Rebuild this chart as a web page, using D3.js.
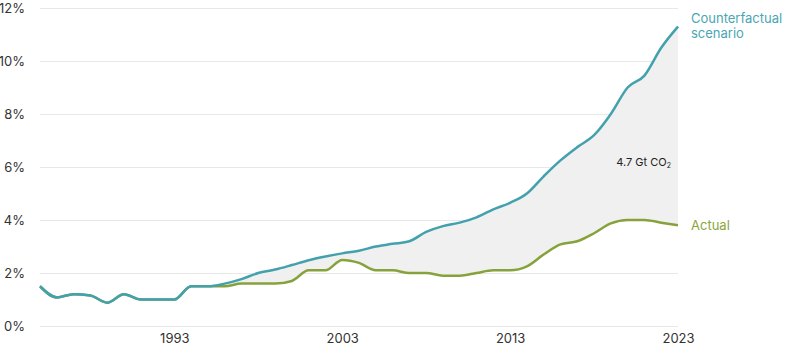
<!DOCTYPE html>
<html>
<head>
<meta charset="utf-8">
<script src="https://cdn.jsdelivr.net/npm/d3@7"></script>
<style>
  body { margin: 0; background: #fff; }
  svg text { font-family: Inter, "Liberation Sans", sans-serif; }
</style>
</head>
<body>
<svg></svg>
<script>
// data (share in %)
const years = d3.range(1985, 2024);
const counterfactual = [1.5, 1.08, 1.2, 1.15, 0.88, 1.2, 1.0, 1.0, 1.0, 1.5,
  1.5, 1.6, 1.77, 2.0, 2.13, 2.3, 2.48, 2.62, 2.74, 2.84,
  3.0, 3.1, 3.2, 3.55, 3.77, 3.9, 4.1, 4.4, 4.65, 5.0,
  5.65, 6.25, 6.75, 7.2, 8.0, 9.0, 9.45, 10.5, 11.3];
const actual = [1.5, 1.08, 1.2, 1.15, 0.88, 1.2, 1.0, 1.0, 1.0, 1.5,
  1.5, 1.5, 1.6, 1.6, 1.6, 1.7, 2.1, 2.1, 2.49, 2.38,
  2.1, 2.1, 2.0, 2.0, 1.9, 1.9, 2.0, 2.1, 2.1, 2.25,
  2.7, 3.08, 3.2, 3.5, 3.87, 4.0, 4.0, 3.9, 3.8];
const yTicks = [0, 2, 4, 6, 8, 10, 12];
const xTicks = [1993, 2003, 2013, 2023];

const rows = years.map((y, i) => ({ year: y, cf: counterfactual[i], act: actual[i] }));

const svg = d3.select("svg")
    .attr("width", 795)
    .attr("height", 354);

const x = d3.scaleLinear().domain([1985, 2023]).range([40, 678]);
const y = d3.scaleLinear().domain([0, 12]).range([326, 8]);

// grid + y labels
svg.append("g")
    .attr("transform", "translate(40,0)")
    .call(d3.axisLeft(y).tickValues(yTicks).tickSize(-638).tickFormat(d => d + "%"))
    .call(g => g.select(".domain").remove())
    .call(g => g.selectAll(".tick line").attr("stroke", "#e8e8e8").attr("stroke-width", 1.2))
    .call(g => g.selectAll(".tick text")
        .attr("x", -15)
        .attr("fill", "#333")
        .style("font-size", "13px"));

// x labels
svg.append("g")
    .attr("transform", "translate(0,326)")
    .call(d3.axisBottom(x).tickValues(xTicks).tickSize(0).tickFormat(d3.format("d")))
    .call(g => g.select(".domain").remove())
    .call(g => g.selectAll(".tick text")
        .attr("dy", "1.1em")
        .attr("fill", "#333")
        .style("font-size", "13px"));

const curve = d3.curveMonotoneX;

// shaded gap between the two lines
svg.append("path")
    .datum(rows)
    .attr("fill", "#f0f0f0")
    .attr("d", d3.area().curve(curve)
        .x(d => x(d.year))
        .y0(d => y(d.act))
        .y1(d => y(d.cf)));

svg.append("path")
    .datum(rows)
    .attr("fill", "none")
    .attr("stroke", "#86a23a")
    .attr("stroke-width", 2.5)
    .attr("d", d3.line().curve(curve).x(d => x(d.year)).y(d => y(d.act)));

svg.append("path")
    .datum(rows)
    .attr("fill", "none")
    .attr("stroke", "#43a1ad")
    .attr("stroke-width", 2.5)
    .attr("d", d3.line().curve(curve).x(d => x(d.year)).y(d => y(d.cf)));

// labels
svg.selectAll(".cf-label")
    .data(["Counterfactual", "scenario"])
    .enter()
    .append("text")
    .attr("class", "cf-label")
    .attr("x", 691)
    .attr("y", (d, i) => 23 + i * 15)
    .attr("fill", "#4aa6b3")
    .style("font-size", "13px")
    .text(d => d);

svg.append("text")
    .attr("x", 691)
    .attr("y", 230)
    .attr("fill", "#8aa53c")
    .style("font-size", "13px")
    .text("Actual");

const gap = svg.append("text")
    .attr("x", 671)
    .attr("y", 166)
    .attr("text-anchor", "end")
    .attr("fill", "#222")
    .style("font-size", "11px");
gap.append("tspan").text("4.7 Gt CO");
gap.append("tspan").attr("dy", 2).style("font-size", "7px").text("2");
</script>
</body>
</html>
